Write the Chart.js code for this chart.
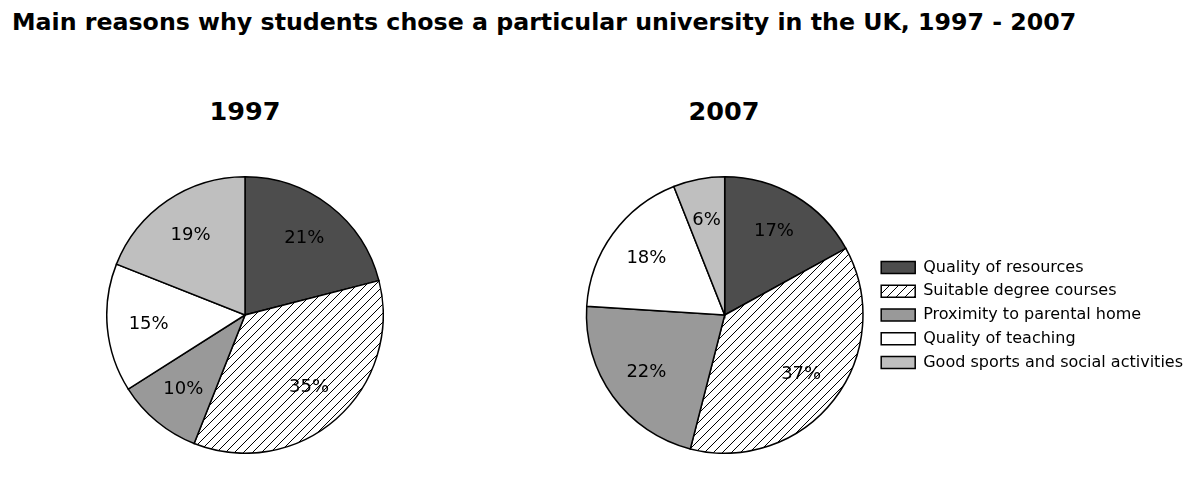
<!DOCTYPE html>
<html>
<head>
<meta charset="utf-8">
<script src="https://cdn.jsdelivr.net/npm/chart.js@4.4.1/dist/chart.umd.min.js"></script>
<style>
  body { margin: 0; background: #fff; width: 1200px; height: 498px; position: relative; overflow: hidden; font-family: "DejaVu Sans", sans-serif; }
  #title { position: absolute; left: 12px; top: 8px; font-size: 23.7px; font-weight: bold; white-space: nowrap; }
  .year { position: absolute; top: 96px; width: 200px; text-align: center; font-size: 25.5px; font-weight: bold; }
  canvas { position: absolute; }
</style>
</head>
<body>
<div id="title">Main reasons why students chose a particular university in the UK, 1997 - 2007</div>
<div class="year" style="left:145px">1997</div>
<div class="year" style="left:624px">2007</div>
<canvas id="c1" width="278" height="278" style="left:106px;top:176px"></canvas>
<canvas id="c2" width="624" height="278" style="left:576px;top:176px"></canvas>
<script>
const reasons = ['Quality of resources', 'Suitable degree courses', 'Proximity to parental home', 'Quality of teaching', 'Good sports and social activities'];
const values1997 = [21, 35, 10, 15, 19];
const values2007 = [17, 37, 22, 18, 6];

// diagonal hatch for the second slice
function hatch() {
  const s = 9;
  const c = document.createElement('canvas');
  c.width = s; c.height = s;
  const g = c.getContext('2d');
  g.fillStyle = '#fff';
  g.fillRect(0, 0, s, s);
  g.strokeStyle = '#000';
  g.lineWidth = 1;
  g.beginPath();
  g.moveTo(0, s); g.lineTo(s, 0);
  g.moveTo(-s / 2, s / 2); g.lineTo(s / 2, -s / 2);
  g.moveTo(s / 2, s * 1.5); g.lineTo(s * 1.5, s / 2);
  g.stroke();
  return g.createPattern(c, 'repeat');
}
const fills = ['#4d4d4d', hatch(), '#999999', '#ffffff', '#bfbfbf'];

const pctLabels = {
  id: 'pctLabels',
  afterDatasetsDraw(chart) {
    const ctx = chart.ctx;
    ctx.save();
    ctx.font = '18px "DejaVu Sans"';
    ctx.fillStyle = '#000';
    ctx.textAlign = 'center';
    ctx.textBaseline = 'middle';
    chart.getDatasetMeta(0).data.forEach((arc, i) => {
      const p = arc.getProps(['x', 'y', 'startAngle', 'endAngle', 'outerRadius'], true);
      const a = (p.startAngle + p.endAngle) / 2;
      const r = p.outerRadius * 0.7;
      ctx.fillText(chart.data.datasets[0].data[i] + '%', p.x + Math.cos(a) * r, p.y + Math.sin(a) * r);
    });
    ctx.restore();
  }
};

function makePie(id, values, showLegend) {
  return new Chart(document.getElementById(id), {
    type: 'pie',
    data: {
      labels: reasons,
      datasets: [{
        data: values,
        backgroundColor: fills,
        borderColor: '#000',
        borderWidth: 1.5,
        borderJoinStyle: 'miter'
      }]
    },
    options: {
      responsive: false,
      animation: false,
      events: [],
      layout: { padding: showLegend ? { right: 7 } : 0 },
      plugins: {
        tooltip: { enabled: false },
        legend: {
          display: showLegend,
          position: 'right',
          maxWidth: 360,
          labels: {
            boxWidth: 34,
            boxHeight: 12,
            padding: 7.8,
            color: '#000',
            font: { family: 'DejaVu Sans', size: 16 }
          }
        }
      }
    },
    plugins: [pctLabels]
  });
}

makePie('c1', values1997, false);
makePie('c2', values2007, true);
</script>
</body>
</html>
